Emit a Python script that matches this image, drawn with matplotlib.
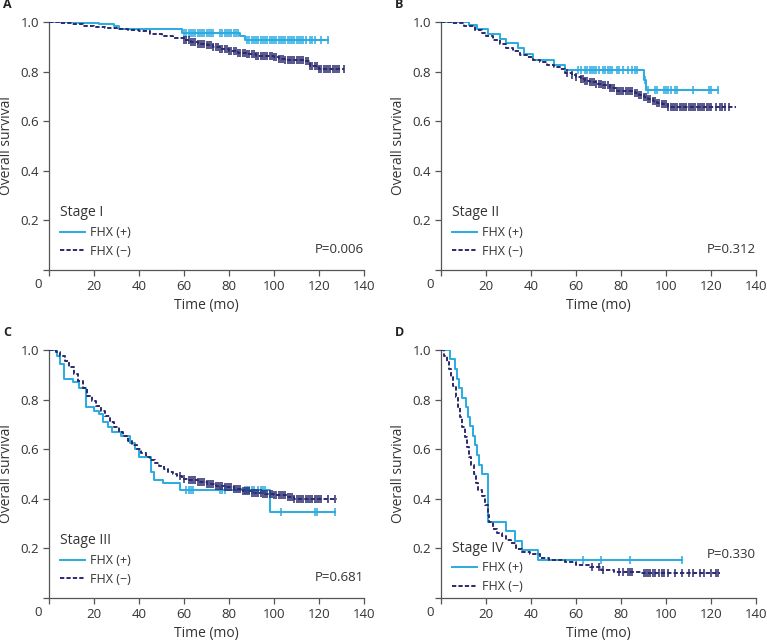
import numpy as np
import matplotlib
matplotlib.use("Agg")
import matplotlib.pyplot as plt
from matplotlib.lines import Line2D

plt.rcParams["font.family"] = ["Open Sans", "DejaVu Sans"]

# ---------------- Dados ----------------
COR_POS = "#29ABE2"
COR_NEG = "#2B2A6E"

# Painel A - Stage I
a_pos_t = [0, 13, 22, 29, 31, 59, 85, 87]
a_pos_s = [1.0, 0.995, 0.990, 0.982, 0.973, 0.955, 0.945, 0.929]
a_pos_end = 124
a_pos_cens = [60, 61, 62, 63, 64, 65, 66, 67, 68, 69, 70, 71, 72, 73, 76, 77, 78, 79, 80, 81, 82, 83, 84,
              88, 89, 90, 91, 92, 93, 94, 95, 96, 97, 98, 99, 100, 101, 102, 103, 104, 105, 106, 107,
              108, 109, 110, 111, 112, 113, 114, 116, 117, 118, 121, 124]
a_neg_t = [0, 5, 10, 15, 20, 25, 30, 35, 40, 45, 50, 55, 60, 63, 66, 70, 73, 76, 80, 84, 88, 92, 96,
           100, 102, 105, 110, 114, 116, 120]
a_neg_s = [1.0, 0.995, 0.99, 0.985, 0.98, 0.975, 0.97, 0.966, 0.962, 0.953, 0.944, 0.935, 0.926, 0.92,
           0.913, 0.906, 0.898, 0.89, 0.882, 0.877, 0.87, 0.864, 0.861, 0.859, 0.852, 0.848, 0.845,
           0.841, 0.824, 0.812]
a_neg_end = 131
a_neg_cens = [60, 61, 62, 63, 64, 65, 66, 67, 68, 69, 70, 71, 72, 73, 74, 75, 76, 77, 78, 79, 80, 81, 82,
              83, 84, 85, 86, 87, 88, 89, 90, 91, 92, 93, 94, 95, 96, 97, 98, 99, 100, 101, 102, 103,
              104, 105, 106, 107, 108, 109, 110, 111, 112, 113, 114, 115, 116, 117, 118, 119, 120, 121,
              122, 123, 124, 125, 126, 127, 128, 129, 131]

# Painel B - Stage II
b_pos_t = [0, 12.5, 16, 21, 26, 29, 34, 37, 41, 50, 55, 90, 91]
b_pos_s = [1.0, 0.989, 0.972, 0.950, 0.933, 0.915, 0.895, 0.871, 0.848, 0.826, 0.807, 0.767, 0.727]
b_pos_end = 123
b_pos_cens = [61, 62, 64, 65, 66, 67, 68, 69, 70, 72, 73, 74, 75, 76, 78, 79, 81, 83, 85, 86, 87, 90.5,
              92, 95, 96, 99, 100, 101, 102, 104, 105, 112, 119, 120, 123]
b_neg_t = [0, 5, 10, 15, 18, 20, 23, 26, 29, 32, 35, 38, 41, 44, 47, 50, 53, 55, 58, 60, 62, 64, 66,
           69, 72, 75, 78, 86, 88, 90, 92, 94, 96, 98, 101]
b_neg_s = [1.0, 0.995, 0.985, 0.968, 0.955, 0.942, 0.928, 0.912, 0.897, 0.882, 0.868, 0.858, 0.848,
           0.838, 0.828, 0.818, 0.81, 0.796, 0.788, 0.78, 0.77, 0.764, 0.758, 0.752, 0.745, 0.735,
           0.72, 0.712, 0.705, 0.698, 0.69, 0.682, 0.675, 0.668, 0.658]
b_neg_end = 131
b_neg_cens = [56, 58, 60, 62, 63, 64, 65, 66, 67, 68, 69, 70, 71, 72, 73, 74, 75, 76, 77, 78, 79, 80,
              81, 82, 83, 84, 85, 86, 87, 88, 89, 90, 91, 92, 93, 94, 95, 96, 97, 98, 99, 100, 101, 102,
              103, 104, 105, 106, 107, 108, 109, 110, 111, 112, 113, 114, 115, 116, 117, 118, 119, 120,
              122, 124, 125, 126, 128]

# Painel C - Stage III
c_pos_t = [0, 3.5, 5, 6.5, 10.5, 13.5, 16.5, 20, 22, 24, 26, 28, 32, 36, 38, 40, 45.5, 46.5, 50.5, 58, 98]
c_pos_s = [1.0, 0.975, 0.945, 0.884, 0.871, 0.845, 0.77, 0.755, 0.74, 0.71, 0.69, 0.67, 0.655, 0.625,
           0.60, 0.57, 0.507, 0.477, 0.462, 0.434, 0.348]
c_pos_end = 127
c_pos_cens = [61, 62, 63, 64, 76, 77, 78, 87, 88, 89, 90, 91, 93, 94, 95, 96, 103, 118, 119, 127]
c_neg_t = [0, 3, 5, 7, 9, 11, 13, 15, 17, 19, 21, 23, 25, 27, 29, 31, 33, 35, 37, 39, 41, 43, 45, 47,
           49, 51, 53, 55, 57, 59, 62, 66, 70, 74, 78, 82, 86, 90, 95, 100, 106, 109]
c_neg_s = [1.0, 0.99, 0.975, 0.955, 0.93, 0.905, 0.875, 0.845, 0.815, 0.795, 0.775, 0.755, 0.735, 0.71,
           0.69, 0.668, 0.652, 0.635, 0.618, 0.60, 0.585, 0.57, 0.557, 0.545, 0.533, 0.522, 0.51, 0.50,
           0.49, 0.48, 0.474, 0.467, 0.46, 0.453, 0.447, 0.44, 0.433, 0.425, 0.42, 0.416, 0.408, 0.398]
c_neg_end = 128
c_neg_cens = [58, 60, 62, 63, 64, 65, 66, 67, 68, 69, 70, 71, 72, 73, 74, 75, 76, 77, 78, 79, 80, 81,
              82, 83, 84, 85, 86, 87, 88, 89, 90, 91, 92, 93, 94, 95, 96, 97, 98, 99, 100, 101, 102,
              103, 104, 105, 106, 107, 108, 109, 110, 111, 112, 113, 114, 115, 116, 117, 118, 119, 120,
              121, 124, 127]

# Painel D - Stage IV
d_pos_t = [0, 4, 6, 7, 8, 9.5, 11, 12, 13, 14, 15, 16, 17, 18.3, 20.7, 29, 33, 36, 43]
d_pos_s = [1.0, 0.962, 0.923, 0.885, 0.846, 0.808, 0.769, 0.731, 0.692, 0.654, 0.615, 0.577, 0.538,
           0.50, 0.308, 0.269, 0.231, 0.192, 0.154]
d_pos_end = 107
d_pos_cens = [63, 71, 84, 107]
d_neg_t = [0, 1.5, 2.5, 3.5, 4.5, 5.5, 6.5, 7.5, 8.5, 9.5, 10.5, 11.5, 12.5, 13.5, 14.5, 15.5, 16.5, 18,
           19.5, 20.7, 21.5, 23, 25, 27, 29, 31, 33.5, 36, 39.5, 44, 48, 55, 60, 66, 71, 77, 89]
d_neg_s = [1.0, 0.975, 0.95, 0.925, 0.89, 0.855, 0.81, 0.77, 0.73, 0.69, 0.65, 0.61, 0.57, 0.535, 0.50,
           0.465, 0.435, 0.41, 0.375, 0.335, 0.305, 0.28, 0.262, 0.248, 0.235, 0.222, 0.197, 0.185,
           0.177, 0.163, 0.155, 0.145, 0.133, 0.123, 0.113, 0.106, 0.10]
d_neg_end = 124
d_neg_cens = [67, 70, 72, 79, 81, 83, 84, 85, 90, 91, 92, 93, 94, 95, 97, 98, 99, 101, 104, 107, 110,
              112, 115, 117, 120, 122, 123]

PAINEIS = [
    ("A", "Stage I", "P=0.006", (a_pos_t, a_pos_s, a_pos_end, a_pos_cens), (a_neg_t, a_neg_s, a_neg_end, a_neg_cens)),
    ("B", "Stage II", "P=0.312", (b_pos_t, b_pos_s, b_pos_end, b_pos_cens), (b_neg_t, b_neg_s, b_neg_end, b_neg_cens)),
    ("C", "Stage III", "P=0.681", (c_pos_t, c_pos_s, c_pos_end, c_pos_cens), (c_neg_t, c_neg_s, c_neg_end, c_neg_cens)),
    ("D", "Stage IV", "P=0.330", (d_pos_t, d_pos_s, d_pos_end, d_pos_cens), (d_neg_t, d_neg_s, d_neg_end, d_neg_cens)),
]

# posições dos eixos em pixels (esquerda, topo)
POS = {"A": (49, 22), "B": (441, 22), "C": (49, 350), "D": (441, 350)}
W_PX, H_PX = 315, 248
FIG_W, FIG_H = 767, 640
TXT = "#333333"


def draw_km(ax, curva, cor, ls):
    t, s, fim, cens = curva
    t = np.asarray(t, float)
    s = np.asarray(s, float)
    tx = np.append(t, fim)
    sx = np.append(s, s[-1])
    ax.step(tx, sx, where="post", color=cor, lw=1.4, linestyle=ls, zorder=3)
    idx = np.searchsorted(t, cens, side="right") - 1
    ax.plot(cens, s[idx], linestyle="none", marker="|", markersize=5.5, mew=1.1, color=cor, zorder=4)


fig = plt.figure(figsize=(FIG_W / 100, FIG_H / 100), dpi=100)

for letra, estagio, pval, pos, neg in PAINEIS:
    x0, y0 = POS[letra]
    ax = fig.add_axes([x0 / FIG_W, 1 - (y0 + H_PX) / FIG_H, W_PX / FIG_W, H_PX / FIG_H])
    draw_km(ax, pos, COR_POS, "-")
    draw_km(ax, neg, COR_NEG, (0, (2.2, 1.1)))

    ax.set_xlim(0, 140)
    ax.set_ylim(0, 1.0)
    ax.set_xticks([0, 20, 40, 60, 80, 100, 120, 140])
    ax.set_xticklabels(["", "20", "40", "60", "80", "100", "120", "140"])
    ax.set_yticks([0, 0.2, 0.4, 0.6, 0.8, 1.0])
    ax.set_yticklabels(["", "0.2", "0.4", "0.6", "0.8", "1.0"])
    for sp in ["top", "right"]:
        ax.spines[sp].set_visible(False)
    for sp in ["left", "bottom"]:
        ax.spines[sp].set_color("#555555")
        ax.spines[sp].set_linewidth(0.9)
    ax.tick_params(length=4, width=0.9, color="#555555", labelsize=9.5, labelcolor=TXT, pad=3)
    ax.annotate("0", xy=(0, 0), xycoords="axes fraction", xytext=(-11, -14),
                textcoords="offset pixels", ha="center", va="center", fontsize=9.5, color=TXT)
    ax.set_xlabel("Time (mo)", fontsize=10, color=TXT, labelpad=4)
    ax.set_ylabel("Overall survival", fontsize=10, color=TXT, labelpad=5)

    handles = [Line2D([], [], color=COR_POS, lw=1.4),
               Line2D([], [], color=COR_NEG, lw=1.4, linestyle=(0, (2.2, 1.1)))]
    leg_y = 0.02 if letra != "D" else -0.01
    leg = ax.legend(handles, ["FHX (+)", "FHX (\u2212)"], title=estagio, loc="lower left",
                    bbox_to_anchor=(0.01, leg_y), frameon=False, fontsize=9, title_fontsize=10,
                    alignment="left", handlelength=2.0, handletextpad=0.4, labelspacing=0.45,
                    borderaxespad=0.2)
    for txt in leg.get_texts():
        txt.set_color(TXT)
    leg.get_title().set_color(TXT)

    p_y = 0.083 if letra != "D" else 0.177
    ax.text(1.0, p_y, pval, transform=ax.transAxes, ha="right", va="center", fontsize=9.5, color=TXT)

    fig.text((x0 - 46) / FIG_W, 1 - 5 / FIG_H if letra in "AB" else 1 - 333 / FIG_H, letra,
             fontsize=9, fontweight="bold", color="#222222", ha="left", va="center")

fig.savefig("out.png", dpi=100)
